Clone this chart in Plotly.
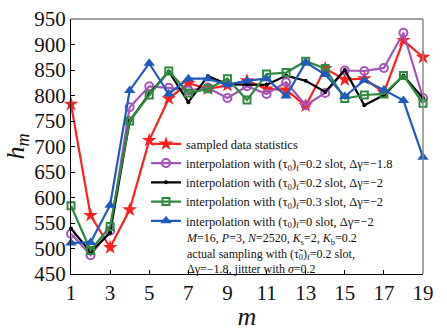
import plotly.graph_objects as go

m = list(range(1, 20))
sampled = [783, 565, 502, 576, 712, 794, 824, 813, 820, 829, 813, 811, 780, 853, 831, 833, 806, 908, 875]
interp_02_18 = [529, 487, 535, 777, 818, 815, 810, 815, 795, 818, 803, 826, 781, 805, 849, 848, 854, 923, 795]
interp_02_2 = [539, 493, 531, 750, 803, 847, 787, 838, 822, 822, 821, 839, 829, 807, 850, 781, 801, 839, 795]
interp_03_2 = [584, 496, 543, 750, 801, 848, 805, 813, 833, 791, 842, 845, 867, 853, 794, 801, 803, 839, 785]
interp_0_2 = [511, 512, 585, 810, 863, 803, 833, 833, 821, 829, 833, 799, 865, 841, 798, 830, 811, 790, 679]

x_ticks = list(range(1, 20, 2))
y_ticks = list(range(450, 951, 50))

names = [
    "sampled data statistics",
    "interpolation with (τ<sub>0</sub>)<sub>f</sub>=0.2 slot, Δγ=−1.8",
    "interpolation with (τ<sub>0</sub>)<sub>f</sub>=0.2 slot, Δγ=−2",
    "interpolation with (τ<sub>0</sub>)<sub>f</sub>=0.3 slot, Δγ=−2",
    "interpolation with (τ<sub>0</sub>)<sub>f</sub>=0 slot, Δγ=−2",
]
notes = [
    "<i>M</i>=16, <i>P</i>=3, <i>N</i>=2520, <i>K</i><sub>s</sub>=2, <i>K</i><sub>b</sub>=0.2",
    "actual sampling with (τ̃<sub>0</sub>)<sub>f</sub>=0.2 slot,",
    "Δγ=−1.8, jittter with <i>σ</i>=0.2",
]

FONT = "Liberation Serif"

styles = [
    dict(color="#ff2020", symbol="star", size=11, open=False),
    dict(color="#a555b8", symbol="circle-open", size=8, open=True),
    dict(color="#000000", symbol="circle", size=4, open=False),
    dict(color="#2e8a3e", symbol="square-open", size=7, open=True),
    dict(color="#1f5bbd", symbol="triangle-up", size=10, open=False),
]
series = [sampled, interp_02_18, interp_02_2, interp_03_2, interp_0_2]

fig = go.Figure()
for name, ys, st in zip(names, series, styles):
    fig.add_trace(go.Scatter(
        x=m, y=ys, name=name, mode="lines+markers",
        line=dict(color=st["color"], width=2.2),
        marker=dict(symbol=st["symbol"], size=st["size"], color=st["color"],
                    line=dict(color=st["color"], width=2 if st["open"] else 0)),
        cliponaxis=False,
    ))

fig.add_annotation(
    text="<br>".join(notes), xref="paper", yref="paper",
    x=(184 - 71) / 352, y=(280 - 232) / 273,
    xanchor="left", yanchor="top", align="left", showarrow=False,
    font=dict(family=FONT, size=12, color="#111"),
)

# frame top / right
fig.add_shape(type="line", xref="paper", yref="paper", x0=0, x1=1, y0=1, y1=1,
              line=dict(color="#444", width=1.2))
fig.add_shape(type="line", xref="paper", yref="paper", x0=1, x1=1, y0=0, y1=1,
              line=dict(color="#888", width=1.5))

fig.update_layout(
    width=447, height=332,
    margin=dict(l=71, r=24, t=7, b=52),
    paper_bgcolor="white", plot_bgcolor="white",
    font=dict(family=FONT, color="#111"),
    showlegend=True,
    legend=dict(
        x=(146 - 71) / 352, y=(280 - 125) / 273, xanchor="left", yanchor="top",
        bgcolor="rgba(0,0,0,0)", borderwidth=0,
        font=dict(family=FONT, size=12.5, color="#111"),
        itemwidth=30,
    ),
    xaxis=dict(
        range=[1, 19], tickvals=x_ticks, ticktext=[str(v) for v in x_ticks],
        showgrid=False, zeroline=False, showline=True, linecolor="black", linewidth=1.2,
        ticks="inside", ticklen=4, tickcolor="black", ticklabeloverflow="allow",
        tickfont=dict(family=FONT, size=21, color="#111"),
        title=dict(text="<i>m</i>", font=dict(family=FONT, size=26, color="#111"), standoff=2),
    ),
    yaxis=dict(
        range=[450, 950], tickvals=y_ticks, ticktext=[str(v) for v in y_ticks],
        showgrid=False, zeroline=False, showline=True, linecolor="black", linewidth=1.2,
        ticks="inside", ticklen=4, tickcolor="black", ticklabeloverflow="allow",
        tickfont=dict(family=FONT, size=21, color="#111"),
        title=dict(text="<i>h<sub>m</sub></i>", font=dict(family=FONT, size=26, color="#111"), standoff=2),
    ),
)

fig.write_html("out.html")
